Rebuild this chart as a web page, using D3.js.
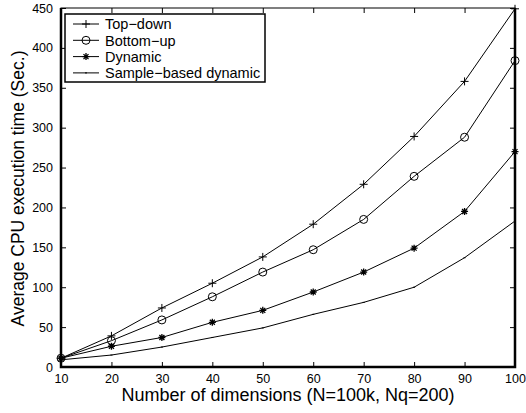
<!DOCTYPE html>
<html>
<head>
<meta charset="utf-8">
<script src="https://cdn.jsdelivr.net/npm/d3@7"></script>
<style>
  body { margin: 0; background: #fff; }
  text { font-family: "Liberation Sans", Arial, sans-serif; fill: #000; }
</style>
</head>
<body>
<svg id="chart" width="526" height="413"></svg>
<script>
(function () {
  "use strict";

  // number of dimensions on the x axis
  var dims = [10, 20, 30, 40, 50, 60, 70, 80, 90, 100];
  // average CPU execution time in seconds, one list per method
  var topDown = [11, 39, 74, 105, 138, 179, 229, 289, 358, 449];
  var bottomUp = [11, 33, 59, 88, 119, 147, 185, 239, 288, 384];
  var dynamic = [11, 26, 37, 56, 71, 94, 119, 149, 195, 270];
  var sampleBased = [9, 15, 25, 37, 49, 66, 81, 100, 137, 183];
  var names = ['Top\u2212down', 'Bottom\u2212up', 'Dynamic', 'Sample\u2212based dynamic'];
  var markers = ['plus', 'circle', 'star', 'dot'];
  var yTicks = [0, 50, 100, 150, 200, 250, 300, 350, 400, 450];

  var series = [topDown, bottomUp, dynamic, sampleBased].map(function (vals, i) {
    return {name: names[i], marker: markers[i], values: vals};
  });

  var svg = d3.select('#chart');
  var margin = {top: 8, right: 11, bottom: 46, left: 61};
  var width = 526 - margin.left - margin.right,
      height = 413 - margin.top - margin.bottom;

  var x = d3.scaleLinear().domain([10, 100]).range([0, width]);
  var y = d3.scaleLinear().domain([0, 450]).range([height, 0]);

  var g = svg.append('g').attr('transform', 'translate(' + margin.left + ',' + margin.top + ')');

  // draw a marker of a given kind at (cx, cy)
  function drawMarker(sel, kind, cx, cy) {
    var m = sel.append('g').attr('transform', 'translate(' + cx + ',' + cy + ')')
        .attr('stroke', '#000').attr('fill', 'none').attr('stroke-width', 1);
    if (kind === 'plus') {
      m.append('path').attr('d', 'M-4,0H4M0,-4V4');
    } else if (kind === 'circle') {
      m.append('circle').attr('r', 4);
    } else if (kind === 'star') {
      m.append('path').attr('d', 'M-3.5,0H3.5M0,-3.5V3.5M-2.5,-2.5L2.5,2.5M-2.5,2.5L2.5,-2.5')
        .attr('stroke-width', 1.3);
    } else {
      m.append('path').attr('d', 'M-1,0H1');
    }
  }

  var line = d3.line()
      .x(function (d, i) { return x(dims[i]); })
      .y(function (d) { return y(d); });

  series.forEach(function (s) {
    g.append('path')
        .datum(s.values)
        .attr('d', line)
        .attr('fill', 'none')
        .attr('stroke', '#000')
        .attr('stroke-width', 1);
    s.values.forEach(function (v, i) {
      drawMarker(g, s.marker, x(dims[i]), y(v));
    });
  });

  // axes with inward ticks on all four sides
  var bottomAxis = d3.axisBottom(x).tickValues(dims).tickSize(-5).tickPadding(8);
  var leftAxis = d3.axisLeft(y).tickValues(yTicks).tickSize(-5).tickPadding(8);
  var ax = g.append('g').attr('transform', 'translate(0,' + height + ')').call(bottomAxis);
  var ay = g.append('g').call(leftAxis);
  var axTop = g.append('g').call(d3.axisTop(x).tickValues(dims).tickSize(-5).tickFormat(''));
  var ayRight = g.append('g').attr('transform', 'translate(' + width + ',0)')
      .call(d3.axisRight(y).tickValues(yTicks).tickSize(-5).tickFormat(''));

  [ax, ay, axTop, ayRight].forEach(function (a) {
    a.select('.domain').remove();
    a.selectAll('.tick line').attr('stroke', '#000');
    a.selectAll('.tick text').attr('font-size', 12.5).attr('font-family', '"Liberation Sans", Arial, sans-serif');
  });
  ax.selectAll('.tick text').attr('dy', '0.6em');

  // frame: thicker on bottom/left/right like the original
  g.append('rect').attr('width', width).attr('height', height)
      .attr('fill', 'none').attr('stroke', '#000').attr('stroke-width', 1);
  g.append('path')
      .attr('d', 'M0,0V' + height + 'H' + width + 'V0')
      .attr('fill', 'none').attr('stroke', '#000').attr('stroke-width', 2.5);

  // axis titles
  svg.append('text')
      .attr('x', margin.left + width / 2)
      .attr('y', 401)
      .attr('text-anchor', 'middle')
      .attr('font-size', 18)
      .text('Number of dimensions (N=100k, Nq=200)');
  svg.append('text')
      .attr('transform', 'translate(24,' + (margin.top + height / 2 + 1) + ') rotate(-90)')
      .attr('text-anchor', 'middle')
      .attr('font-size', 17.5)
      .text('Average CPU execution time (Sec.)');

  // legend
  var legend = svg.append('g').attr('transform', 'translate(65,14)');
  legend.append('rect').attr('width', 200).attr('height', 68)
      .attr('fill', '#fff').attr('stroke', '#000').attr('stroke-width', 1.5);
  series.forEach(function (s, i) {
    var ly = 10 + i * 16.3;
    legend.append('line').attr('x1', 8).attr('x2', 34).attr('y1', ly).attr('y2', ly)
        .attr('stroke', '#000').attr('stroke-width', 1);
    drawMarker(legend, s.marker, 21, ly);
    legend.append('text').attr('x', 40).attr('y', ly).attr('dy', '0.36em')
        .attr('font-size', 14.5).text(s.name);
  });
}());
</script>
</body>
</html>
